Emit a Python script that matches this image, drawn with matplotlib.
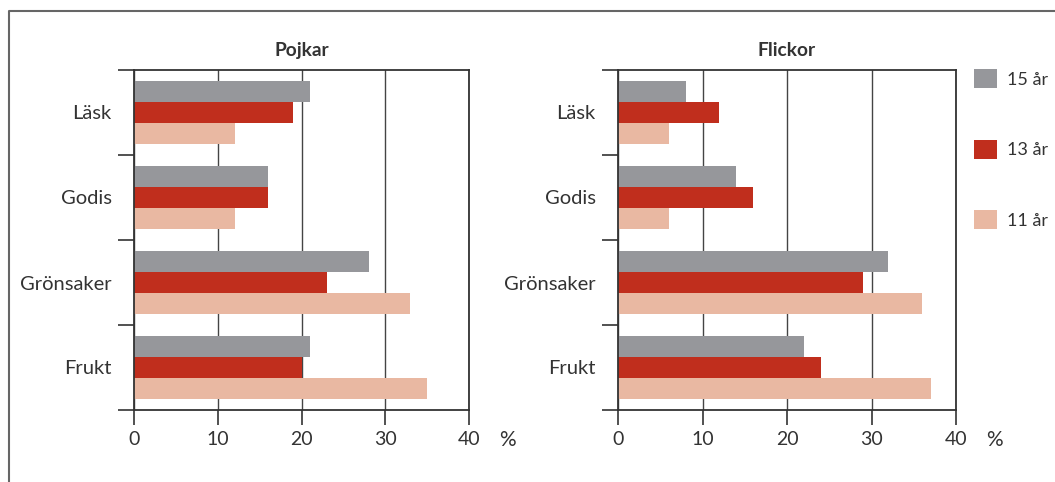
import matplotlib
matplotlib.use("Agg")
import matplotlib.pyplot as plt
from matplotlib.lines import Line2D
import numpy as np

plt.rcParams['font.family'] = ['Lato', 'DejaVu Sans']

categories = ["Läsk", "Godis", "Grönsaker", "Frukt"]
series = ["15 år", "13 år", "11 år"]
colors = ["#96979b", "#c02e1d", "#e9b8a2"]

pojkar = {
    "15 år": [21, 16, 28, 21],
    "13 år": [19, 16, 23, 20],
    "11 år": [12, 12, 33, 35],
}
flickor = {
    "15 år": [8, 14, 32, 22],
    "13 år": [12, 16, 29, 24],
    "11 år": [6, 6, 36, 37],
}
xticks = [0, 10, 20, 30, 40]

W, H = 1055, 482
fig = plt.figure(figsize=(W / 100, H / 100), dpi=100)

text_col = "#333333"
line_col = "#333333"


def panel(rect, data, title):
    ax = fig.add_axes(rect)
    y = np.arange(len(categories))
    bh = 0.25
    for i, s in enumerate(series):
        ax.barh(y + (i - 1) * bh, data[s], height=bh, color=colors[i], zorder=2)
    ax.set_xlim(0, 40)
    ax.set_ylim(len(categories) - 0.5, -0.5)
    ax.set_xticks(xticks)
    ax.set_xticklabels([str(t) for t in xticks], fontsize=14, color=text_col)
    ax.set_yticks(y)
    ax.set_yticklabels(categories, fontsize=14.5, color=text_col)
    ax.set_yticks(np.arange(len(categories) + 1) - 0.5, minor=True)
    ax.tick_params(axis='y', which='major', length=0, pad=16)
    ax.tick_params(axis='y', which='minor', length=11.5, width=1.2, color=line_col, direction='out')
    ax.tick_params(axis='x', which='major', length=11, width=1.2, color=line_col, direction='out', pad=4)
    ax.grid(axis='x', color="#444444", lw=1, zorder=1)
    for sp in ax.spines.values():
        sp.set_color(line_col)
        sp.set_linewidth(1.3)
    ax.set_title(title, fontsize=13.8, fontweight='bold', color=text_col, pad=10)
    ax.text(1.115, -0.088, "%", transform=ax.transAxes, fontsize=15, color=text_col,
            ha='center', va='center')
    return ax


ax1 = panel([134 / W, 72 / H, 335 / W, 340 / H], pojkar, "Pojkar")
ax2 = panel([618 / W, 72 / H, 338 / W, 340 / H], flickor, "Flickor")

handles = ax2.containers
fig.legend(handles, series, loc='upper left', bbox_to_anchor=(974 / W, 1 - 69 / H),
           frameon=False, fontsize=13, handlelength=1.25, handleheight=1.25,
           labelspacing=2.85, handletextpad=0.6, borderpad=0, borderaxespad=0,
           labelcolor=text_col)

# outer frame (left and top edges)
fx, fy = 9 / W, 1 - 11 / H
fig.add_artist(Line2D([fx, fx, 1], [0, fy, fy], transform=fig.transFigure,
                      color="#666666", lw=1.5))

fig.savefig("out.png", dpi=100)
